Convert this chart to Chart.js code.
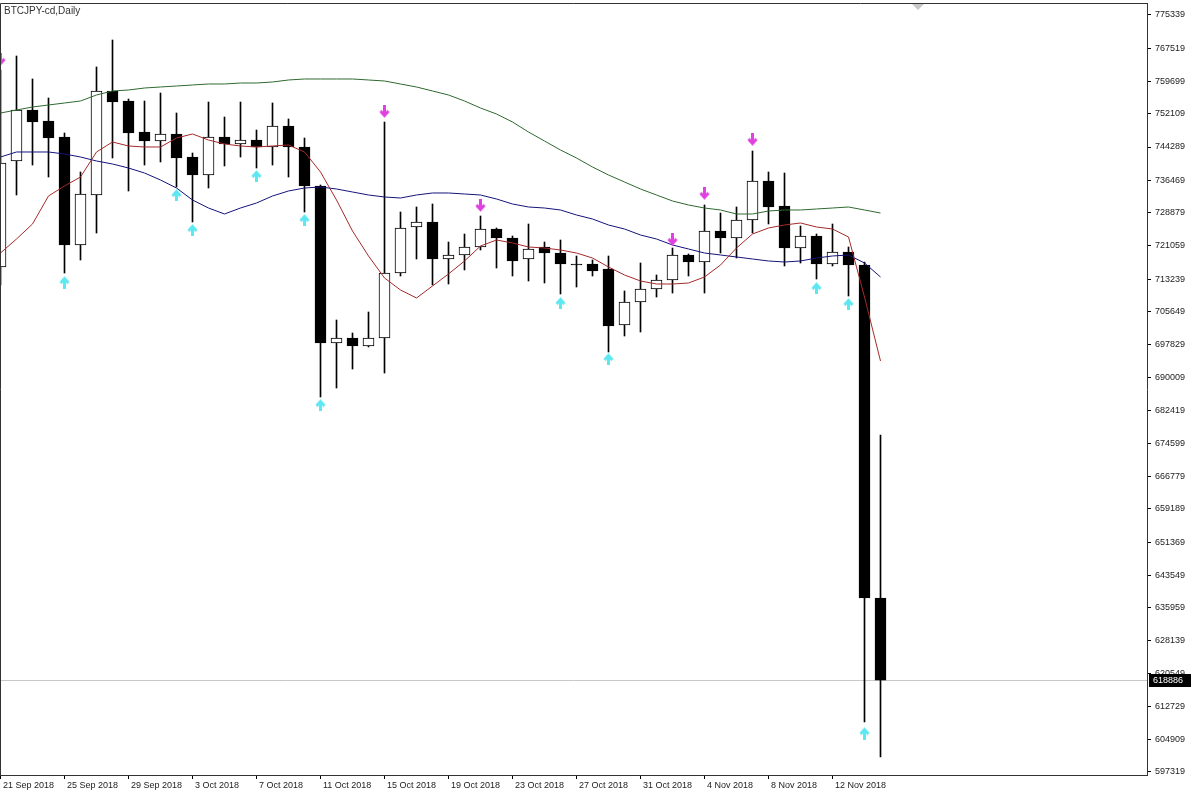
<!DOCTYPE html>
<html lang="en">
<head>
<meta charset="UTF-8">
<title>BTCJPY-cd,Daily</title>
<script src="https://cdn.jsdelivr.net/npm/chart.js"></script>
<style>
    body { margin: 0; background: #fff; }
    .wrap { position: relative; width: 1194px; height: 796px; }
    .title {
        position: absolute; left: 4px; top: 5px;
        font: 10px 'Liberation Sans', Arial, sans-serif; color: #333;
    }
</style>
</head>
<body>
<div class="wrap">
    <canvas id="chart" width="1194" height="796"></canvas>
    <div class="title">BTCJPY-cd,Daily</div>
</div>

<script>
// one candle per day, index 0 = 21 Sep 2018 ... 55 = 15 Nov 2018
const opens = [716069, 741000, 752995, 750408, 746645, 721243, 733003, 757464, 755112, 747821,
    745704, 747350, 741941, 737707, 746645, 744998, 745939, 744293, 749232, 744293,
    735120, 698193, 699369, 697488, 699369, 714657, 725477, 726653, 717950, 718891,
    720773, 725006, 722889, 717950, 720773, 719361, 716774, 716774, 715598, 702427,
    707837, 710894, 713011, 718891, 717245, 724536, 722889, 727123, 736296, 730416,
    720537, 723360, 716774, 719597, 716539, 638217];
const highs = [762403, 765696, 760286, 755817, 747585, 738413, 763109, 769459, 755582, 755112,
    756993, 752289, 742881, 754877, 751349, 754877, 748291, 754641, 750878, 746409,
    735355, 703603, 700545, 705485, 750173, 729005, 730181, 730886, 721949, 723830,
    728064, 725241, 723360, 726182, 721949, 722419, 718656, 717715, 718656, 710424,
    717009, 714187, 720537, 719126, 730651, 728769, 730181, 743352, 738413, 738177,
    725712, 723830, 726182, 720773, 717245, 676555];
const lows = [711835, 733003, 740059, 737237, 714657, 717715, 724065, 741705, 733944, 740059,
    740765, 734885, 726653, 734649, 739824, 741941, 739353, 740059, 737237, 729005,
    685493, 687609, 692078, 697253, 691137, 713952, 717950, 711835, 712070, 715363,
    720067, 715833, 713952, 712776, 712305, 709718, 711365, 713952, 696077, 699840,
    700781, 709013, 709953, 713952, 709953, 719361, 718185, 724065, 726182, 716304,
    717009, 713246, 716304, 709248, 609053, 600821];
const closes = [740529, 752995, 750173, 746409, 721243, 733238, 757464, 754877, 747585, 745704,
    747350, 741705, 737707, 746645, 744998, 745939, 744293, 749232, 744293, 735120,
    698193, 699369, 697488, 699369, 714657, 725241, 726653, 717950, 718891, 720773,
    725006, 722889, 717480, 720302, 719361, 716774, 716539, 715128, 702192, 707837,
    710894, 713011, 718891, 717245, 724536, 722889, 727123, 736296, 730181, 720537,
    723360, 716774, 719597, 716539, 638217, 618886];

// moving averages
const maSlow = [752289, 752995, 753701, 754171, 754641, 755112, 756523, 757464, 757699, 758169,
    758405, 758640, 758875, 759110, 759110, 759345, 759345, 759581, 760051, 760286,
    760286, 760286, 760286, 760051, 759816, 759110, 758405, 757464, 756523, 755112,
    753465, 752054, 750173, 747821, 745704, 743587, 741705, 739589, 737707, 736061,
    734414, 733003, 731592, 730651, 729945, 729475, 728534, 728534, 729240, 729475,
    729475, 729710, 729945, 730181, 729475, 728769];
const maMid = [741941, 743117, 743117, 743117, 742646, 741941, 741000, 740294, 739353, 738177,
    736531, 734649, 731827, 729945, 728534, 729945, 731121, 732768, 733944, 734649,
    734885, 734414, 733709, 733003, 732533, 732297, 733003, 733474, 733474, 733238,
    733003, 732062, 730886, 730181, 729945, 729475, 728299, 727358, 725947, 725006,
    723595, 722654, 721243, 720302, 719361, 718891, 718421, 717950, 717480, 717245,
    717480, 718185, 718656, 718891, 717009, 713717];
const maFast = [719361, 722654, 726182, 732768, 735120, 737237, 743117, 745469, 744528, 744293,
    744293, 746409, 747350, 745939, 744998, 744528, 744293, 744528, 744763, 743117,
    738413, 731827, 724536, 718656, 713482, 710659, 708777, 711600, 714422, 717480,
    721008, 722419, 721714, 720773, 720537, 720067, 719361, 718185, 716069, 714187,
    712776, 712070, 712070, 712305, 713717, 716539, 720537, 723830, 725241, 725947,
    726418, 725477, 725006, 723125, 709013, 693960];

// signal arrows
const upIdx = [4, 11, 12, 16, 19, 20, 35, 38, 51, 53, 54];
const upVals = [712534, 733003, 724771, 737472, 727123, 683611, 707602, 694430, 711130, 707366, 606465];
const downIdx = [0, 24, 30, 42, 44, 47];
const downVals = [764755, 752525, 730416, 722419, 733238, 745939];

// axes
const yTicks = [775339, 767519, 759699, 752109, 744289, 736469, 728879, 721059, 713239, 705649,
    697829, 690009, 682419, 674599, 666779, 659189, 651369, 643549, 635959, 628139,
    620549, 612729, 604909, 597319];
const xTickPos = [0, 4, 8, 12, 16, 20, 24, 28, 32, 36, 40, 44, 48, 52];
const xTickLabels = ['21 Sep 2018', '25 Sep 2018', '29 Sep 2018', '3 Oct 2018', '7 Oct 2018',
    '11 Oct 2018', '15 Oct 2018', '19 Oct 2018', '23 Oct 2018', '27 Oct 2018',
    '31 Oct 2018', '4 Nov 2018', '8 Nov 2018', '12 Nov 2018'];

const lastClose = closes[closes.length - 1];
const FONT = 'Liberation Sans';

function arrowImg(color, up) {
    const c = document.createElement('canvas');
    c.width = 11; c.height = 13;
    const g = c.getContext('2d');
    if (!up) { g.translate(0, 13); g.scale(1, -1); }
    g.strokeStyle = color;
    g.lineWidth = 3;
    g.beginPath(); g.moveTo(1.5, 7.5); g.lineTo(5.5, 3); g.lineTo(9.5, 7.5); g.stroke();
    g.beginPath(); g.moveTo(5.5, 3); g.lineTo(5.5, 13); g.stroke();
    return c;
}

const wicks = opens.map((o, i) => ({ x: i, y: [lows[i], highs[i]] }));
const bodies = opens.map((o, i) => ({ x: i, y: [o, closes[i]] }));
const bodyFill = opens.map((o, i) => closes[i] >= o ? '#ffffff' : '#000000');
const line = arr => arr.map((v, i) => ({ x: i, y: v }));

// scales must not ask for extra room around the plot
function noPad(axis) {
    axis.paddingTop = 0; axis.paddingBottom = 0;
    axis.paddingLeft = 0; axis.paddingRight = 0;
}

const framePlugin = {
    id: 'frame',
    beforeDatasetsDraw(chart) {
        const { ctx, chartArea: a, scales: { y } } = chart;
        const py = Math.round(y.getPixelForValue(lastClose)) + 0.5;
        ctx.save();
        ctx.strokeStyle = '#c8c8c8';
        ctx.lineWidth = 1;
        ctx.beginPath(); ctx.moveTo(a.left, py); ctx.lineTo(a.right, py); ctx.stroke();
        ctx.restore();
    },
    afterDraw(chart) {
        const { ctx, chartArea: a, scales: { y } } = chart;
        ctx.save();
        ctx.strokeStyle = '#333';
        ctx.lineWidth = 1;
        ctx.beginPath();
        ctx.moveTo(a.left + 0.5, a.bottom); ctx.lineTo(a.left + 0.5, a.top + 0.5);
        ctx.lineTo(a.right, a.top + 0.5);
        ctx.stroke();
        // chart shift marker
        ctx.fillStyle = '#c8c8c8';
        ctx.beginPath(); ctx.moveTo(912, a.top + 1); ctx.lineTo(924, a.top + 1); ctx.lineTo(918, a.top + 7); ctx.fill();
        // last price label
        const py = Math.round(y.getPixelForValue(lastClose));
        ctx.fillStyle = '#000';
        ctx.fillRect(a.right + 2, py - 6, 42, 13);
        ctx.fillStyle = '#fff';
        ctx.font = '9px ' + FONT;
        ctx.textBaseline = 'middle';
        ctx.fillText(String(lastClose), a.right + 6, py + 0.5);
        ctx.restore();
    }
};

new Chart(document.getElementById('chart'), {
    type: 'bar',
    data: {
        datasets: [
            { type: 'scatter', data: upIdx.map((x, k) => ({ x, y: upVals[k] })), pointStyle: arrowImg('#5ce8f0', true), order: 0 },
            { type: 'scatter', data: downIdx.map((x, k) => ({ x, y: downVals[k] })), pointStyle: arrowImg('#e040e0', false), order: 0 },
            { type: 'line', data: line(maFast), borderColor: '#a52a2a', borderWidth: 1, pointRadius: 0, tension: 0, order: 1 },
            { type: 'line', data: line(maMid), borderColor: '#14147a', borderWidth: 1, pointRadius: 0, tension: 0, order: 2 },
            { type: 'line', data: line(maSlow), borderColor: '#2f6a2f', borderWidth: 1, pointRadius: 0, tension: 0, order: 3 },
            { data: bodies, backgroundColor: bodyFill, borderColor: '#000', borderWidth: 1, borderSkipped: false,
              barThickness: 11, grouped: false, order: 4 },
            { data: wicks, backgroundColor: '#000', borderWidth: 0, barThickness: 1, grouped: false, order: 5 }
        ]
    },
    options: {
        responsive: false,
        animation: false,
        events: [],
        layout: { autoPadding: false, padding: { top: 3, left: 0, right: 0, bottom: 0 } },
        plugins: { legend: { display: false }, tooltip: { enabled: false } },
        scales: {
            x: {
                type: 'linear',
                offset: false,
                min: -0.03125,
                max: 71.65625,
                afterBuildTicks: axis => { axis.ticks = xTickPos.map(v => ({ value: v })); },
                afterFit: axis => { axis.height = 21; noPad(axis); },
                grid: { offset: false, drawOnChartArea: false, drawTicks: true, tickLength: 4, color: '#000' },
                border: { display: true, color: '#333' },
                ticks: {
                    autoSkip: false, maxRotation: 0, align: 'start', padding: 1,
                    color: '#222', font: { family: FONT, size: 9 },
                    callback: (v, i) => ' ' + xTickLabels[i]
                }
            },
            y: {
                type: 'linear',
                position: 'right',
                min: 596587,
                max: 778161,
                afterBuildTicks: axis => { axis.ticks = yTicks.map(v => ({ value: v })); },
                afterFit: axis => { axis.width = 47; noPad(axis); },
                grid: { drawOnChartArea: false, drawTicks: true, tickLength: 4, color: '#000' },
                border: { display: true, color: '#333' },
                ticks: {
                    autoSkip: false, padding: 4,
                    color: '#222', font: { family: FONT, size: 9 },
                    callback: v => String(v)
                }
            }
        }
    },
    plugins: [framePlugin]
});
</script>
</body>
</html>
